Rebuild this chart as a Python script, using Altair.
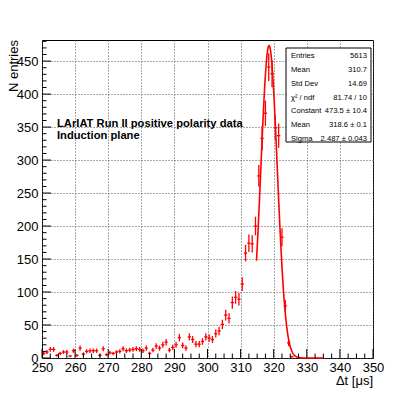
import altair as alt
import pandas as pd
import numpy as np

# ---------------- data ----------------
bin_lo = list(range(250, 350))
counts = [
    7, 9, 13, 13, 4, 7, 9, 9, 3, 11,          # 250-259
    4, 15, 6, 10, 11, 11, 11, 4, 14, 5,       # 260-269
    8, 7, 9, 10, 14, 11, 12, 13, 14, 13,      # 270-279
    11, 15, 7, 12, 18, 15, 20, 24, 12, 16,    # 280-289
    20, 31, 19, 15, 32, 28, 21, 21, 25, 32,   # 290-299
    30, 28, 37, 41, 51, 65, 60, 84, 92, 89,   # 300-309
    112, 159, 174, 173, 200, 276, 333, 371, 441, 431,  # 310-319
    349, 337, 183, 79, 23, 2, 0, 0, 0, 0,     # 320-329
    0, 0, 0, 0, 0, 0, 0, 0, 0, 0,             # 330-339
    0, 0, 0, 0, 0, 0, 0, 0, 0, 0,             # 340-349
]

# fit parameters (from stats box)
fit_const = 473.5
fit_mean = 318.6
fit_sigma = 2.487
fit_range = [314.8, 335.0]

stat_names = ["Entries", "Mean", "Std Dev", "\u03c7\u00b2 / ndf", "Constant", "Mean", "Sigma"]
stat_values = ["5613", "310.7", "14.69", "81.74 / 10", "473.5 \u00b1 10.4", "318.6 \u00b1 0.1", "2.487 \u00b1 0.043"]

x_major = list(range(250, 351, 10))
x_minor = [v for v in np.arange(250, 350.1, 2.5).tolist() if v % 10 != 0]
y_major = list(range(0, 451, 50))
y_minor = [v for v in range(0, 481, 10) if v % 50 != 0]

label_lines = ["LArIAT Run II positive polarity data", "Induction plane"]

# ---------------- build tables ----------------
df = pd.DataFrame({"lo": bin_lo, "c": counts})
df["hi"] = df["lo"] + 1
df["mid"] = df["lo"] + 0.5
df["err"] = np.sqrt(df["c"])
df["elo"] = df["c"] - df["err"]
df["ehi"] = df["c"] + df["err"]
df = df[df["c"] > 0]

fx = np.linspace(fit_range[0], fit_range[1], 400)
fdf = pd.DataFrame({"x": fx, "y": fit_const * np.exp(-0.5 * ((fx - fit_mean) / fit_sigma) ** 2)})

W, H = 331, 318
FONT = "Liberation Sans"
RED = "#ff0000"

xs = alt.Scale(domain=[250, 350], nice=False, zero=False)
ys = alt.Scale(domain=[0, 482], nice=False, zero=False)

xaxis = alt.Axis(values=x_major, ticks=False, domain=False, grid=True, gridDash=[1, 2],
                 gridColor="#555555", gridWidth=1, labelFont=FONT, labelFontSize=13,
                 labelColor="black", labelPadding=3, labelFlush=False, title=None)
yaxis = alt.Axis(values=y_major, ticks=False, domain=False, grid=True, gridDash=[1, 2],
                 gridColor="#555555", gridWidth=1, labelFont=FONT, labelFontSize=13,
                 labelColor="black", labelPadding=4, labelFlush=False, title=None)

vbars = alt.Chart(df).mark_rule(color=RED, strokeWidth=1.3).encode(
    x=alt.X("mid:Q", scale=xs, axis=xaxis),
    y=alt.Y("elo:Q", scale=ys, axis=yaxis),
    y2="ehi:Q",
)
hbars = alt.Chart(df).mark_rule(color=RED, strokeWidth=1.3).encode(
    x=alt.X("lo:Q", scale=xs, axis=xaxis),
    x2="hi:Q",
    y=alt.Y("c:Q", scale=ys, axis=yaxis),
)
fit = alt.Chart(fdf).mark_line(color=RED, strokeWidth=1.6).encode(
    x=alt.X("x:Q", scale=xs, axis=xaxis),
    y=alt.Y("y:Q", scale=ys, axis=yaxis),
)

# inward ticks
xmaj = alt.Chart(pd.DataFrame({"v": x_major})).mark_rule(color="black", strokeWidth=1).encode(
    x=alt.X("v:Q", scale=xs, axis=xaxis), y=alt.value(H), y2=alt.value(H - 9))
xmin = alt.Chart(pd.DataFrame({"v": x_minor})).mark_rule(color="black", strokeWidth=1).encode(
    x=alt.X("v:Q", scale=xs, axis=xaxis), y=alt.value(H), y2=alt.value(H - 4.5))
ymaj = alt.Chart(pd.DataFrame({"v": y_major})).mark_rule(color="black", strokeWidth=1).encode(
    y=alt.Y("v:Q", scale=ys, axis=yaxis), x=alt.value(0), x2=alt.value(9))
ymin = alt.Chart(pd.DataFrame({"v": y_minor})).mark_rule(color="black", strokeWidth=1).encode(
    y=alt.Y("v:Q", scale=ys, axis=yaxis), x=alt.value(0), x2=alt.value(4.5))

one = pd.DataFrame({"a": [0]})

ytitle = alt.Chart(one).mark_text(text="N entries", font=FONT, fontSize=13, angle=270,
                                  align="right", baseline="middle", color="black").encode(
    x=alt.value(-28), y=alt.value(0))
xtitle = alt.Chart(one).mark_text(text="\u0394t [\u03bcs]", font=FONT, fontSize=13,
                                  align="right", baseline="alphabetic", color="black").encode(
    x=alt.value(W), y=alt.value(345))

lab1 = alt.Chart(one).mark_text(text=label_lines[0], font=FONT, fontSize=11.2, fontWeight="bold",
                                align="left", baseline="middle", color="black").encode(
    x=alt.value(15), y=alt.value(84))
lab2 = alt.Chart(one).mark_text(text=label_lines[1], font=FONT, fontSize=11.2, fontWeight="bold",
                                align="left", baseline="middle", color="black").encode(
    x=alt.value(15), y=alt.value(96))

box = alt.Chart(one).mark_rect(fill="white", stroke="black", strokeWidth=1).encode(
    x=alt.value(244), x2=alt.value(329), y=alt.value(8), y2=alt.value(102))

stat_layers = []
row_y = [16, 30, 43.5, 57.5, 71, 85, 98.5]
for name, val, yy in zip(stat_names, stat_values, row_y):
    stat_layers.append(alt.Chart(one).mark_text(text=name, font=FONT, fontSize=7.6, align="left",
                                                baseline="middle", color="black").encode(
        x=alt.value(249), y=alt.value(yy)))
    stat_layers.append(alt.Chart(one).mark_text(text=val, font=FONT, fontSize=7.6, align="right",
                                                baseline="middle", color="black").encode(
        x=alt.value(325), y=alt.value(yy)))

chart = alt.layer(
    vbars, hbars, fit, xmaj, xmin, ymaj, ymin, ytitle, xtitle, lab1, lab2, box, *stat_layers
).properties(
    width=W, height=H,
    autosize=alt.AutoSizeParams(type="none"),
    padding={"left": 34, "top": 32, "right": 34, "bottom": 33},
    background="white",
).configure_view(stroke="black", strokeWidth=1)

chart.save("out.html", embed_options={"renderer": "svg", "actions": False})
